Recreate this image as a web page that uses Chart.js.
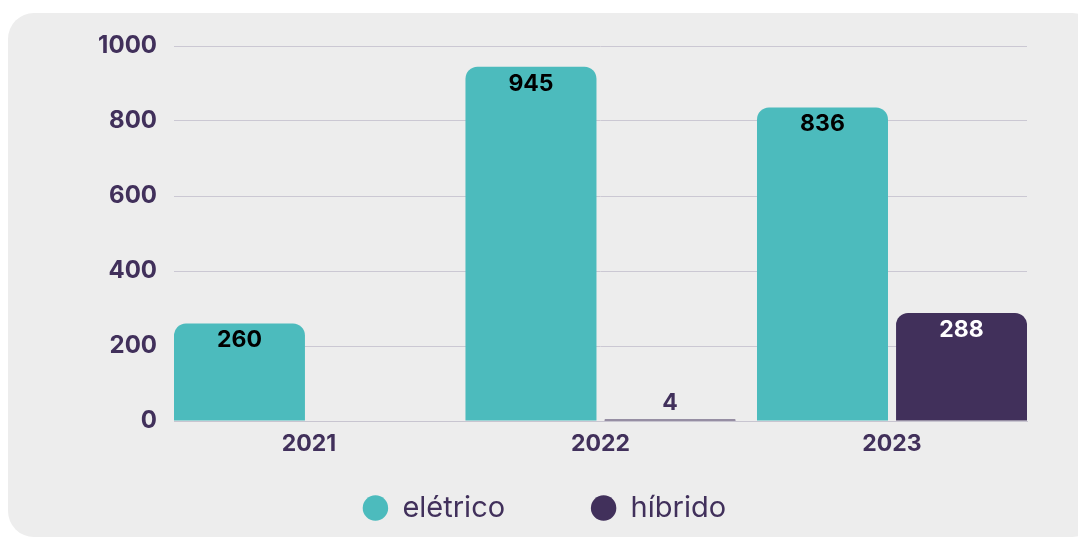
<!DOCTYPE html>
<html lang="pt">
<head>
    <meta charset="UTF-8">
    <title>Elétrico vs híbrido</title>
    <style>
        body {
            margin: 0;
            background: #ffffff;
        }
        .card {
            position: absolute;
            left: 8px;
            top: 13px;
            width: 1090px;
            height: 524px;
            background: #ededed;
            border-radius: 26px;
        }
        .chart-container {
            position: absolute;
            left: 0;
            top: 0;
            width: 1078px;
            height: 537px;
        }
    </style>
</head>
<body>
    <div class="card"></div>
    <div class="chart-container">
        <canvas id="vendasChart"></canvas>
    </div>

    <script src="https://cdn.jsdelivr.net/npm/chart.js"></script>
    <script>
        const anos = ['2021', '2022', '2023'];
        const eletrico = [260, 945, 836];
        const hibrido = [0, 4, 288];
        const ticksY = [0, 200, 400, 600, 800, 1000];

        const corTeal = '#4cbbbd';
        const corRoxo = '#41305b';

        // eixo x numérico (índice do ano) para os grupos encostarem nas bordas
        const pontos = arr => arr.map((v, i) => ({ x: i, y: v }));

        // rótulos de valor no topo das barras
        const rotulos = {
            id: 'rotulos',
            afterDatasetsDraw(chart) {
                const ctx = chart.ctx;
                ctx.save();
                ctx.font = 'bold 23px Inter';
                ctx.textAlign = 'center';
                ctx.textBaseline = 'middle';
                chart.data.datasets.forEach((ds, i) => {
                    const meta = chart.getDatasetMeta(i);
                    meta.data.forEach((bar, j) => {
                        const v = ds.data[j].y;
                        if (!v) return;
                        const h = bar.base - bar.y;
                        if (h > 40) {
                            ctx.fillStyle = i === 0 ? '#000000' : '#ffffff';
                            ctx.fillText(v, bar.x, bar.y + 17);
                        } else {
                            ctx.fillStyle = corRoxo;
                            ctx.fillText(v, bar.x, bar.y - 16);
                        }
                    });
                });
                ctx.restore();
            }
        };

        // a legenda usa um espaçamento largo; sobe a caixa para não empurrar o eixo
        const posLegenda = {
            id: 'posLegenda',
            afterLayout(chart) {
                const lg = chart.legend;
                const top = 508 - 14.5 - 86;
                lg.top = top;
                lg.bottom = chart.height;
                lg.height = lg.bottom - top;
            }
        };

        const ctx = document.getElementById('vendasChart').getContext('2d');

        new Chart(ctx, {
            type: 'bar',
            data: {
                datasets: [
                    {
                        label: 'elétrico',
                        data: pontos(eletrico),
                        backgroundColor: corTeal,
                        borderRadius: { topLeft: 12, topRight: 12 },
                        borderSkipped: 'bottom'
                    },
                    {
                        label: 'híbrido',
                        data: pontos(hibrido),
                        backgroundColor: corRoxo,
                        borderRadius: { topLeft: 12, topRight: 12 },
                        borderSkipped: 'bottom'
                    }
                ]
            },
            options: {
                responsive: true,
                maintainAspectRatio: false,
                animation: false,
                layout: {
                    padding: { top: 46, right: 0, bottom: 0, left: 11 }
                },
                datasets: {
                    bar: {
                        categoryPercentage: 0.954,
                        barPercentage: 0.942
                    }
                },
                scales: {
                    x: {
                        type: 'linear',
                        offset: false,
                        min: -0.463,
                        max: anos.length - 1 + 0.463,
                        afterFit(scale) { scale.height = 56; },
                        afterBuildTicks(scale) {
                            scale.ticks = anos.map((a, i) => ({ value: i }));
                        },
                        grid: { display: false, drawTicks: false, offset: false },
                        border: { color: '#c8c5d0' },
                        ticks: {
                            color: corRoxo,
                            font: { family: 'Inter', size: 23, weight: 'bold' },
                            padding: 9,
                            callback: v => anos[v]
                        }
                    },
                    y: {
                        min: 0,
                        max: 1000,
                        afterFit(scale) { scale.width = 163; },
                        afterBuildTicks(scale) {
                            scale.ticks = ticksY.map(v => ({ value: v }));
                        },
                        grid: { color: '#cbc8d3', drawTicks: false },
                        border: { display: false },
                        ticks: {
                            color: corRoxo,
                            font: { family: 'Inter', size: 24, weight: 'bold' },
                            padding: 17,
                            callback: v => String(v)
                        }
                    },
                    margem: {
                        type: 'linear',
                        position: 'right',
                        afterFit(scale) { scale.width = 51; },
                        grid: { display: false, drawTicks: false },
                        border: { display: false },
                        ticks: { display: false }
                    }
                },
                plugins: {
                    legend: {
                        position: 'bottom',
                        maxHeight: 60,
                        labels: {
                            usePointStyle: true,
                            pointStyle: 'circle',
                            boxWidth: 25,
                            boxHeight: 18,
                            padding: 86,
                            color: corRoxo,
                            font: { family: 'Inter', size: 29 }
                        }
                    },
                    tooltip: { enabled: false }
                }
            },
            plugins: [rotulos, posLegenda]
        });
    </script>
</body>
</html>
